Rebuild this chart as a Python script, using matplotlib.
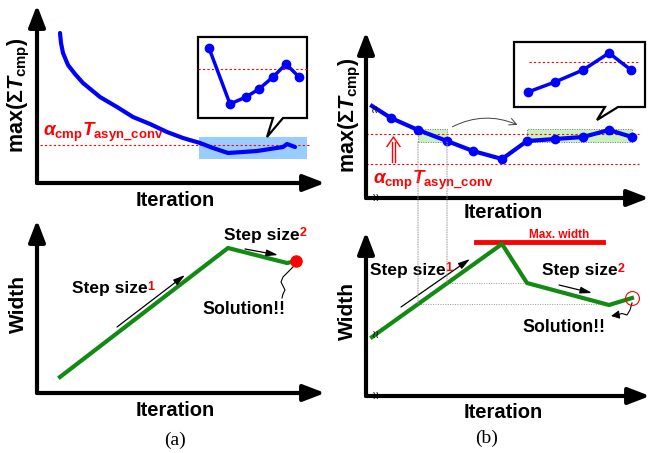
import numpy as np
import matplotlib
matplotlib.use('Agg')
from matplotlib import pyplot as plt
from matplotlib.patches import Rectangle, Polygon, FancyArrowPatch, ConnectionPatch

plt.rcParams['font.family'] = ['Liberation Sans', 'DejaVu Sans']
plt.rcParams['mathtext.fontset'] = 'custom'
plt.rcParams['mathtext.rm'] = 'Liberation Sans:bold'
plt.rcParams['mathtext.bf'] = 'Liberation Sans:bold'
plt.rcParams['mathtext.it'] = 'Liberation Sans:italic:bold'

W, H = 652, 453
UNIT = 10.0  # pixels per data unit in every panel

# ---- (a) upper: max(sum T_cmp) over iterations
a_curve_x = [2.3, 2.4, 2.6, 3.1, 3.8, 4.6, 6.3, 8.0, 9.6, 11.3, 13.0, 14.6, 16.3, 17.6, 19.1, 20.6, 22.0, 23.3, 24.6, 25.0, 25.8]
a_curve_y = [15.0, 14.0, 13.0, 11.8, 10.9, 10.0, 8.6, 7.6, 6.6, 5.9, 5.1, 4.5, 4.0, 3.5, 3.0, 3.1, 3.2, 3.4, 3.6, 3.9, 3.6]
a_thr = 3.8
a_zoom_x = [17.2, 19.3, 20.9, 22.2, 23.6, 24.9, 26.2]
a_zoom_y = [13.5, 7.9, 8.6, 9.4, 10.6, 11.9, 10.6]
a_zoom_thr = 11.4

# ---- (a) lower: width over iterations
a_width_x = [2.3, 19.1, 25.0, 25.9]
a_width_y = [1.6, 14.5, 13.0, 13.2]

# ---- (b) upper
b_iter = [0.6, 2.5, 5.2, 8.1, 10.7, 13.6, 16.1, 18.9, 21.7, 24.3, 26.6]
b_tmax = [9.2, 8.0, 6.8, 5.7, 4.7, 3.9, 5.7, 5.9, 6.1, 6.8, 6.1]
b_thr = 6.4
b_alpha = 3.4
b_zoom_x = [16.2, 18.9, 21.7, 24.3, 26.5]
b_zoom_y = [10.6, 11.6, 12.8, 14.5, 12.8]
b_zoom_thr = 13.6

# ---- (b) lower
b_width_idx = [0, 5, 6, 9, 10]
b_width_y = [5.9, 15.2, 11.3, 9.1, 9.8]
b_max_width = 15.4

BLUE = '#0000ff'
GREEN = '#138a13'
RED = '#ff0000'

fig = plt.figure(figsize=(W / 100, H / 100), dpi=100)

lay = fig.add_axes([0, 0, 1, 1])
lay.set_xlim(0, W)
lay.set_ylim(H, 0)
lay.axis('off')


def panel(left, top, right, bottom):
    ax = fig.add_axes([left / W, 1 - bottom / H, (right - left) / W, (bottom - top) / H])
    ax.set_xlim(0, (right - left) / UNIT)
    ax.set_ylim(0, (bottom - top) / UNIT)
    ax.axis('off')
    ap = dict(arrowstyle='-|>,head_length=1.3,head_width=0.5', color='k', lw=3,
              mutation_scale=10, shrinkA=0, shrinkB=0)
    ax.annotate('', xy=(1, 0), xytext=(0, 0), xycoords='axes fraction', arrowprops=ap, annotation_clip=False)
    ax.annotate('', xy=(0, 1), xytext=(0, 0), xycoords='axes fraction', arrowprops=ap, annotation_clip=False)
    return ax


def callout(ax, x0, x1, y0, y1, b0, b1, tip):
    pts = [(x0, y1), (x1, y1), (x1, y0), (b1, y0), tip, (b0, y0), (x0, y0)]
    ax.add_patch(Polygon(pts, closed=True, fc='white', ec='black', lw=1.6, zorder=5, joinstyle='miter'))


def arrow(ax, p0, p1):
    ax.annotate('', xy=p1, xytext=p0,
                arrowprops=dict(arrowstyle='-|>,head_length=0.7,head_width=0.2', color='k', lw=0.9,
                                shrinkA=0, shrinkB=0, mutation_scale=10))


def step_text(ax, x, y, sup):
    t = ax.text(x, y, 'Step size', fontsize=12.5, fontweight='bold', ha='left', va='center')
    ax.annotate(sup, xy=(1.0, 1.05), xycoords=t, color=RED, fontsize=9, fontweight='bold',
                ha='left', va='top')


def brk(ax, x, y):
    ax.text(x, y, '≀≀', family='DejaVu Sans', fontsize=8, ha='center', va='center', zorder=8)


ylab = r'$\mathbf{max(Σ}T_{\mathbf{cmp}}\mathbf{)}$'
alab = r'$\alpha_{\mathbf{cmp}}T_{\mathbf{asyn\_conv}}$'

# ================= (a) upper
ax = panel(37, 5, 325, 183)
ax.add_patch(Rectangle((16.2, 2.4), 10.8, 2.2, fc='#99ccff', ec='none', zorder=1))
ax.axhline(a_thr, xmin=0.01, xmax=0.95, color=RED, lw=0.8, ls=(0, (2, 2)), zorder=2)
ax.plot(a_curve_x, a_curve_y, color=BLUE, lw=3, solid_capstyle='round', zorder=3)
ax.text(0.6, 3.9, alab, color=RED, fontsize=13.5, ha='left', va='bottom')
callout(ax, 16.1, 27.0, 6.5, 14.6, 23.6, 24.6, (23.0, 4.6))
ax.plot([16.1, 27.0], [a_zoom_thr, a_zoom_thr], color=RED, lw=0.8, ls=(0, (2, 2)), zorder=6)
ax.plot(a_zoom_x, a_zoom_y, color=BLUE, lw=2.5, marker='o', ms=6, zorder=7)

# ================= (a) lower
ax = panel(37, 220, 325, 393)
ax.plot(a_width_x, a_width_y, color=GREEN, lw=3, zorder=3)
ax.plot(a_width_x[-1], a_width_y[-1], 'o', color=RED, ms=8, zorder=4)
arrow(ax, (8.0, 6.6), (14.8, 11.8))
arrow(ax, (20.8, 14.4), (24.1, 13.8))
step_text(ax, 3.5, 10.4, '1')
step_text(ax, 18.7, 15.8, '2')
ax.text(16.5, 8.3, 'Solution!!', fontsize=12.8, fontweight='bold', ha='left', va='center')
sq_x = [25.6, 25.1, 24.6, 24.4, 24.6, 24.8, 24.6, 24.5]
sq_y = [12.6, 12.1, 11.6, 11.1, 10.7, 10.3, 9.9, 9.5]
ax.plot(sq_x, sq_y, color='k', lw=0.8)

# ================= (b) upper
axt = panel(366, 32, 649, 198)
for i0, i1 in [(2, 3), (6, 10)]:
    axt.add_patch(Rectangle((b_iter[i0], 5.6), b_iter[i1] - b_iter[i0], 1.3, fc='#c8f0c0',
                            ec='0.45', lw=0.7, ls=(0, (1, 1.5)), zorder=1))
axt.axhline(b_thr, xmin=0.0, xmax=0.965, color=RED, lw=0.8, ls=(0, (2, 2)), zorder=2)
axt.axhline(b_alpha, xmin=0.0, xmax=0.965, color=RED, lw=0.8, ls=(0, (2, 2)), zorder=2)
axt.plot(b_iter, b_tmax, color=BLUE, lw=3, marker='o', ms=6, markevery=list(range(1, 11)), zorder=3)
# double up-arrow from alpha line to threshold
ux = 2.75
axt.plot([ux - 0.13, ux - 0.13], [b_alpha + 0.2, b_thr - 0.8], color=RED, lw=1.0)
axt.plot([ux + 0.13, ux + 0.13], [b_alpha + 0.2, b_thr - 0.8], color=RED, lw=1.0)
axt.plot([ux - 0.65, ux, ux + 0.65], [b_thr - 1.25, b_thr - 0.3, b_thr - 1.25], color=RED, lw=1.0)
axt.text(0.7, 2.9, alab, color=RED, fontsize=13.5, ha='left', va='top')
axt.add_patch(FancyArrowPatch((8.4, 7.0), (15.4, 7.2), connectionstyle='arc3,rad=-0.25',
                              arrowstyle='->,head_length=0.5,head_width=0.25', mutation_scale=10,
                              color='0.25', lw=0.7))
callout(axt, 14.8, 27.9, 9.1, 15.6, 23.9, 25.2, (23.1, 7.8))
axt.plot([16.3, 27.2], [b_zoom_thr, b_zoom_thr], color=RED, lw=0.8, ls=(0, (2, 2)), zorder=6)
axt.plot(b_zoom_x, b_zoom_y, color=BLUE, lw=2.5, marker='o', ms=6, zorder=7)
brk(axt, 0.9, 8.8)
brk(axt, 1.0, 0.0)

# ================= (b) lower
axb = panel(366, 232, 650, 396)
bx = [b_iter[i] for i in b_width_idx]
# dotted guides from the upper plot down to the width curve
for i, j in [(2, 9), (3, 6)]:
    x = b_iter[i]
    yw = np.interp(x, bx[:2], b_width_y[:2])
    fig.add_artist(ConnectionPatch(xyA=(x, 5.6), coordsA='data', axesA=axt,
                                   xyB=(x, yw), coordsB='data', axesB=axb,
                                   color='0.6', lw=0.7, ls=(0, (1, 1.5))))
    axb.plot([x, b_iter[j]], [yw, yw], color='0.6', lw=0.7, ls=(0, (1, 1.5)), zorder=1)
axb.plot([11.0, 23.7], [b_max_width, b_max_width], color=RED, lw=3.5, zorder=2)
axb.text(19.3, 16.1, 'Max. width', color=RED, fontsize=8.5, fontweight='bold', ha='center', va='center')
axb.plot(bx, b_width_y, color=GREEN, lw=3, zorder=3)
axb.plot(bx[-1], b_width_y[-1], 'o', mfc='none', mec=RED, mew=0.8, ms=10, zorder=4)
arrow(axb, (3.5, 8.9), (10.4, 13.7))
arrow(axb, (19.3, 11.1), (22.6, 10.3))
step_text(axb, 0.4, 12.6, '1')
step_text(axb, 17.6, 12.5, '2')
axb.text(15.6, 6.9, 'Solution!!', fontsize=12.8, fontweight='bold', ha='left', va='center')
sq_x = [26.6, 26.4, 26.1, 25.6, 25.1]
sq_y = [9.3, 8.6, 8.1, 8.25, 8.1]
axb.plot(sq_x, sq_y, color='k', lw=0.8)
axb.annotate('', xy=(24.5, 8.0), xytext=(sq_x[-1], sq_y[-1]),
             arrowprops=dict(arrowstyle='-|>,head_length=0.5,head_width=0.25', color='k', lw=0.8,
                             shrinkA=0, shrinkB=0, mutation_scale=10))
brk(axb, 1.0, 6.1)
brk(axb, 1.0, 0.0)

# ================= labels
lay.text(19, 95, ylab, fontsize=15.5, rotation=90, ha='center', va='center')
lay.text(18, 304, 'Width', fontsize=15, fontweight='bold', rotation=90, ha='center', va='center')
lay.text(350, 115, ylab, fontsize=15.5, rotation=90, ha='center', va='center')
lay.text(347, 311, 'Width', fontsize=15, fontweight='bold', rotation=90, ha='center', va='center')
for x, y in [(175, 200), (175, 410), (503, 213), (503, 412)]:
    lay.text(x, y, 'Iteration', fontsize=14.5, fontweight='bold', ha='center', va='center')
lay.text(175, 440, '(a)', family='Liberation Serif', fontsize=14, ha='center', va='center')
lay.text(487, 438, '(b)', family='Liberation Serif', fontsize=14, ha='center', va='center')

fig.savefig('out.png', dpi=100)
plt.close('all')
